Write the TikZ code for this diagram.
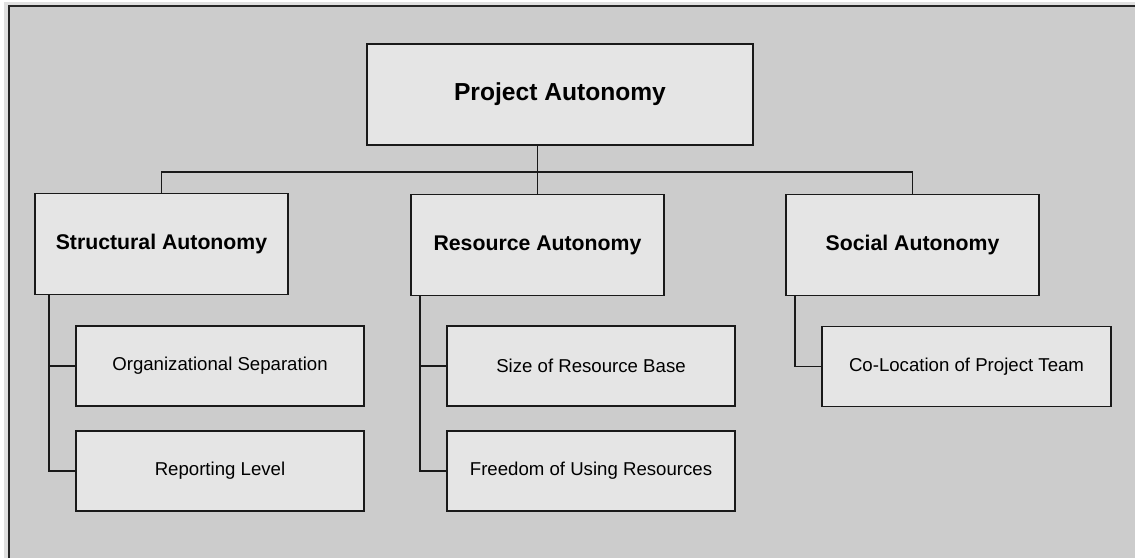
\documentclass[tikz,border=0pt]{standalone}
\usepackage{fontspec}
\setmainfont{Liberation Sans}
\definecolor{paneback}{HTML}{CCCCCC}
\definecolor{boxback}{HTML}{E5E5E5}
\tikzset{
    box/.style = {draw=black!90, line width=1.1pt, fill=boxback, inner sep=0pt, align=center},
    mainbox/.style = {box, minimum width=7.72cm, minimum height=2.02cm, font=\bfseries\fontsize{14}{16}\selectfont},
    dimbox/.style = {box, minimum width=5.06cm, minimum height=2.02cm, font=\bfseries\fontsize{12.1}{14}\selectfont},
    itembox/.style = {box, minimum width=5.76cm, minimum height=1.6cm, font=\fontsize{10.6}{13}\selectfont},
    link/.style = {line width=1.1pt, black!90}
}

\begin{document}
\begin{tikzpicture}[x=0.02cm, y=-0.02cm]
    \useasboundingbox (0,0) rectangle (1135,558);
    \fill[white] (0,0) rectangle (1135,558);
    \fill[black!12] (4,2) rectangle (1135,558);
    \fill[paneback] (9,6) rectangle (1135,558);
    \draw[line width=1.1pt, black!85] (9,558) -- (9,6) -- (1135,6);

    \node[mainbox] (proj) at (560,94.5) {Project Autonomy};

    \node[dimbox] (struct) at (161.5,244) {Structural Autonomy};
    \node[dimbox] (res) at (537.5,245) {Resource Autonomy};
    \node[dimbox] (soc) at (912.5,245) {Social Autonomy};

    \node[itembox] (orgsep) at (220,366) {Organizational Separation};
    \node[itembox] (replev) at (220,471) {Reporting Level};
    \node[itembox] (resbase) at (591,366) {Size of Resource Base};
    \node[itembox] (resuse) at (591,471) {Freedom of Using Resources};
    \node[itembox, minimum width=5.78cm] (coloc) at (966.5,366.5) {Co-Location of Project Team};

    % tree bar
    \coordinate (bar) at (537.5,172);
    \draw[link] (proj.south -| bar) -- (bar);
    \draw[link] (struct.north) |- (bar) -| (soc.north);
    \draw[link] (bar) -- (res.north);

    % sub items
    \draw[link] ([xshift=0.3cm]struct.south west) |- (orgsep.west);
    \draw[link] ([xshift=0.3cm]struct.south west) |- (replev.west);
    \draw[link] ([xshift=0.2cm]res.south west) |- (resbase.west);
    \draw[link] ([xshift=0.2cm]res.south west) |- (resuse.west);
    \draw[link] ([xshift=0.2cm]soc.south west) |- (coloc.west);
\end{tikzpicture}
\end{document}
